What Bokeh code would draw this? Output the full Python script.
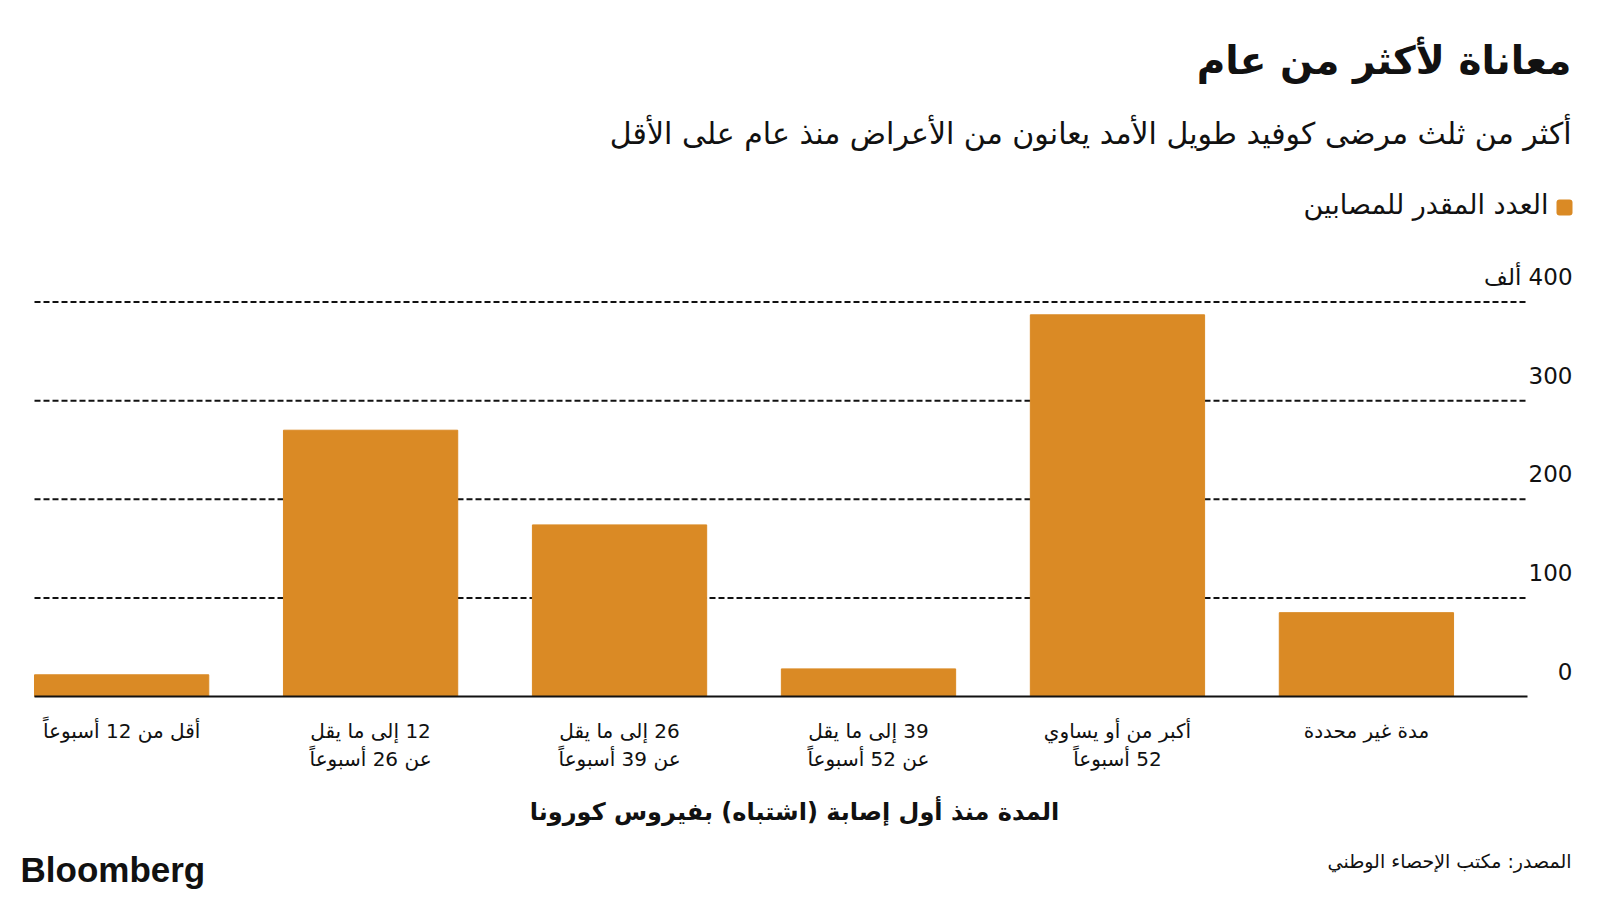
from bokeh.plotting import figure
from bokeh.models import (Range1d, FixedTicker, Label, LinearAxis, BoxAnnotation)
from bokeh.embed import file_html
from bokeh.resources import INLINE

# ---------------- data ----------------
categories = [
    "أقل من 12 أسبوعاً",
    "12 إلى ما يقل\nعن 26 أسبوعاً",
    "26 إلى ما يقل\nعن 39 أسبوعاً",
    "39 إلى ما يقل\nعن 52 أسبوعاً",
    "أكبر من أو يساوي\n52 أسبوعاً",
    "مدة غير محددة",
]
values = [22, 270, 174, 28, 387, 85]  # thousands of people
y_ticks = [0, 100, 200, 300, 400]
y_tick_labels = ["0", "100", "200", "300", "400 ألف"]
grid_ticks = [100, 200, 300, 400]

title = "معاناة لأكثر من عام"
subtitle = "أكثر من ثلث مرضى كوفيد طويل الأمد يعانون من الأعراض منذ عام على الأقل"
legend_label = "العدد المقدر للمصابين"
x_title = "المدة منذ أول إصابة (اشتباه) بفيروس كورونا"
source_text = "المصدر: مكتب الإحصاء الوطني"
brand = "Bloomberg"

# ---------------- style / layout ----------------
BAR = "#DA8A25"
INK = "#111111"
FONT = "DejaVu Sans"
RLE, PDF = "\u202b", "\u202c"


def rtl(s):
    return "\n".join(RLE + line + PDF for line in s.split("\n"))


W, H = 1600, 900
# chart area in page pixels
CL, CR, CB = 34, 1527, 696
XLO, XHI = -0.35, 5.647          # data extent of chart area
KX = (CR - CL) / (XHI - XLO)      # px per x unit
KY = 0.98625                      # px per y unit (thousands)
LABEL_LIFT = 25                   # y tick labels sit this many px above their gridline

x_start = XLO - CL / KX
x_end = XHI + (W - CR) / KX
y_start = -(H - CB) / KY
y_end = CB / KY


def data_x(X):
    return XLO + (X - CL) / KX


p = figure(width=W, height=H, output_backend="svg", toolbar_location=None,
           x_range=Range1d(x_start, x_end), y_range=Range1d(y_start, y_end),
           x_axis_location=None, y_axis_location=None, min_border=0)
p.outline_line_color = None
p.background_fill_color = "white"
p.border_fill_color = "white"
p.xgrid.visible = False
p.ygrid.visible = False

# dashed gridlines across the chart area
p.segment(x0=[XLO] * len(grid_ticks), x1=[XHI] * len(grid_ticks),
          y0=grid_ticks, y1=grid_ticks, line_color=INK, line_width=2, line_dash="6 3")

p.vbar(x=list(range(len(values))), top=values, width=0.7, color=BAR)

# x axis (baseline + category labels)
xax = LinearAxis(fixed_location=0, bounds=(XLO, XHI))
xax.ticker = FixedTicker(ticks=list(range(len(categories))))
xax.major_label_overrides = {i: rtl(c) for i, c in enumerate(categories)}
xax.major_tick_line_color = None
xax.minor_tick_line_color = None
xax.major_tick_out = 0
xax.major_tick_in = 0
xax.axis_line_color = INK
xax.axis_line_width = 2
xax.major_label_standoff = 22
xax.major_label_text_font = FONT
xax.major_label_text_font_size = "20px"
xax.major_label_text_color = INK
xax.major_label_text_line_height = 1.2
p.add_layout(xax, "below")

# y tick labels: right-aligned, lifted above the gridlines
p.extra_y_ranges = {"lab": Range1d(y_start - LABEL_LIFT / KY, y_end - LABEL_LIFT / KY)}
yax = LinearAxis(y_range_name="lab", fixed_location=data_x(1572))
yax.ticker = FixedTicker(ticks=y_ticks)
yax.major_label_overrides = {t: rtl(l) for t, l in zip(y_ticks, y_tick_labels)}
yax.axis_line_color = None
yax.major_tick_line_color = None
yax.minor_tick_line_color = None
yax.major_tick_out = 0
yax.major_tick_in = 0
yax.major_label_standoff = 0
yax.major_label_text_font = FONT
yax.major_label_text_font_size = "23px"
yax.major_label_text_color = INK
p.add_layout(yax, "left")


def lab(text, X, Y, size, align="right", bold=False, font=FONT):
    p.add_layout(Label(x=X, y=H - Y, x_units="screen", y_units="screen", text=text,
                       text_align=align, text_baseline="middle", text_font=font,
                       text_font_size=size, text_color=INK,
                       text_font_style="bold" if bold else "normal"))


lab(rtl(title), 1571, 60, "39px", bold=True)
lab(rtl(subtitle), 1571, 133, "30px")
lab(rtl(legend_label), 1548, 204, "27px")
p.add_layout(BoxAnnotation(left=1556, right=1572, bottom=H - 215, top=H - 199,
                           left_units="screen", right_units="screen",
                           bottom_units="screen", top_units="screen",
                           fill_color=BAR, fill_alpha=1, line_color=None, border_radius=3))
lab(rtl(x_title), 794, 811, "24px", align="center", bold=True)
lab(brand, 20, 869, "35px", align="left", bold=True, font="Liberation Sans")
lab(rtl(source_text), 1571, 860, "19px")

open("out.html", "w").write(file_html(p, INLINE))
